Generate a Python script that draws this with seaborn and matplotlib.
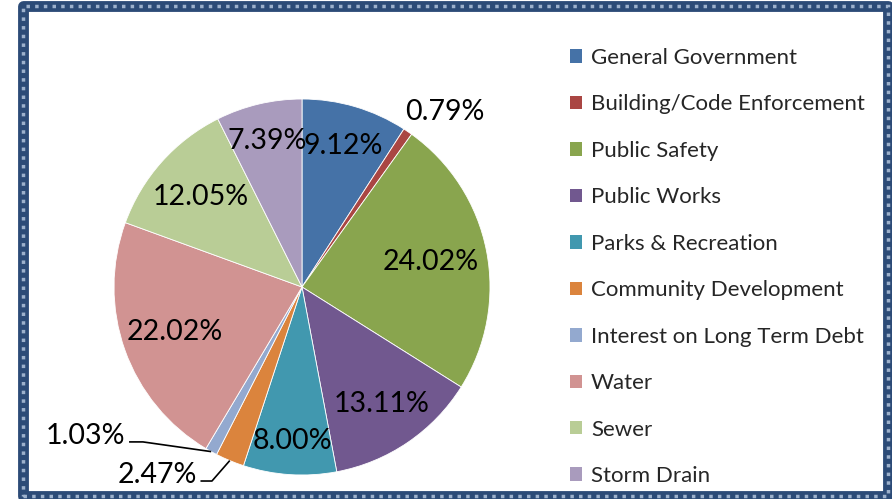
import matplotlib
matplotlib.use("Agg")
import matplotlib.pyplot as plt
import seaborn as sns
import numpy as np
from matplotlib.patches import Rectangle, Patch

sns.set_theme(style="white")
plt.rcParams['font.family'] = ['Lato', 'DejaVu Sans']

categories = ["General Government", "Building/Code Enforcement", "Public Safety",
              "Public Works", "Parks & Recreation", "Community Development",
              "Interest on Long Term Debt", "Water", "Sewer", "Storm Drain"]
shares = [9.12, 0.79, 24.02, 13.11, 8.00, 2.47, 1.03, 22.02, 12.05, 7.39]
pct_labels = ["9.12%", "0.79%", "24.02%", "13.11%", "8.00%", "2.47%",
              "1.03%", "22.02%", "12.05%", "7.39%"]
colors = ["#4572A7", "#AA4643", "#89A54E", "#71588F", "#4198AF",
          "#DB843D", "#93A9CF", "#D19392", "#B9CD96", "#A99BBD"]

# label placement style (distance from centre in radii, angle shift in deg);
# None -> leader line
label_dist = [(0.78, 0), (1.20, -5), (0.70, 0), (0.75, 0), (0.82, 0), None, None,
              (0.72, 0), (0.72, 0), (0.80, 0)]
leader = {5: (-0.479, -1.032, -0.54), 6: (-0.846, -0.824, -0.92)}

W, H = 892, 499
fig = plt.figure(figsize=(W / 100, H / 100), dpi=100)
R = 188
cx, cy = 302, 287
half = 200
ax = fig.add_axes([(cx - half) / W, (H - cy - half) / H, 2 * half / W, 2 * half / H])
wedges, _ = ax.pie(shares, colors=colors, startangle=90, counterclock=False,
                   wedgeprops=dict(edgecolor="white", linewidth=0.6))
ax.set_xlim(-half / R, half / R)
ax.set_ylim(-half / R, half / R)
ax.set_aspect("equal")
ax.axis("off")

fs_lab = 20.5
for i, (w, lab) in enumerate(zip(wedges, pct_labels)):
    mid = (w.theta1 + w.theta2) / 2
    d = label_dist[i]
    if d is not None:
        ang = np.deg2rad(mid + d[1])
        ax.text(d[0] * np.cos(ang), d[0] * np.sin(ang), lab, ha="center", va="center",
                fontsize=fs_lab, color="black")
    else:
        ang = np.deg2rad(mid)
        ex, ey, tx = leader[i]
        sx, sy = np.cos(ang), np.sin(ang)
        ax.plot([sx, ex, tx], [sy, ey, ey], color="black", lw=1.2,
                solid_capstyle="butt", clip_on=False)
        ax.text(tx - 0.02, ey + 0.03, lab, ha="right", va="center",
                fontsize=fs_lab, color="black")

handles = [Patch(facecolor=c, edgecolor="none") for c in colors]
fig.legend(handles, categories, loc="upper left", bbox_to_anchor=(570 / W, 1 - 48 / H),
           frameon=False, fontsize=16, handlelength=0.55, handleheight=0.55,
           handletextpad=0.4, labelspacing=1.19, borderpad=0, borderaxespad=0)

# border
rect = Rectangle((23 / W, 3 / H), (888 - 23) / W, (493.5 - 3) / H, fill=False,
                 lw=7.8, edgecolor="#2C4B77", transform=fig.transFigure,
                 joinstyle="round")
fig.patches.append(rect)
rect2 = Rectangle((23 / W, 3 / H), (888 - 23) / W, (493.5 - 3) / H, fill=False,
                  lw=2.5, edgecolor="#9DB1CC", linestyle=(0, (1, 1.5)),
                  transform=fig.transFigure)
fig.patches.append(rect2)

fig.savefig("out.png", dpi=100)
